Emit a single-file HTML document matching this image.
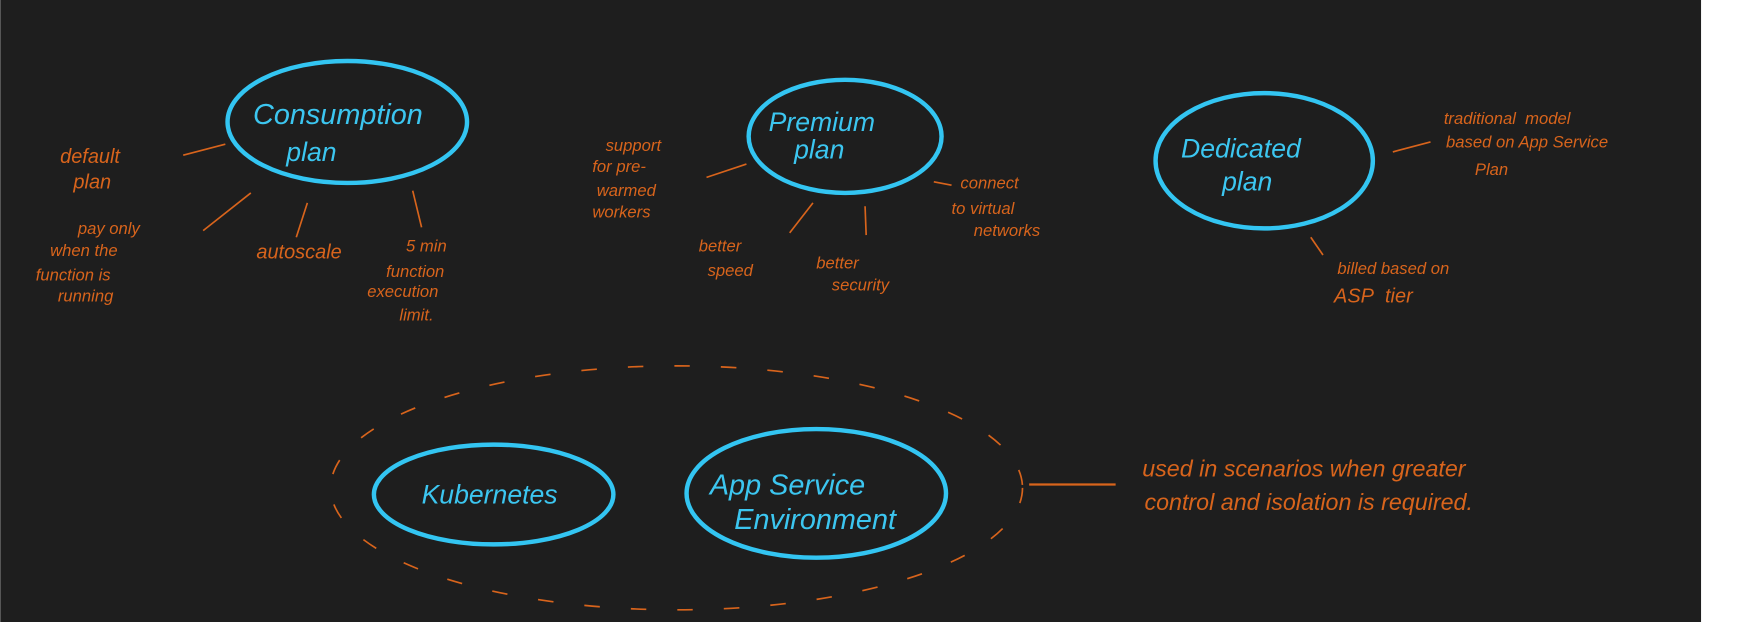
<!DOCTYPE html>
<html><head><meta charset="utf-8"><style>
html,body{margin:0;padding:0;background:#fff;}
svg{display:block}
text{font-family:"Liberation Sans",sans-serif;font-style:italic;}
.b{fill:#3cc6f0;font-size:22px;}
.o{fill:#d8641c;font-size:15px;}
</style></head><body>
<svg width="1739" height="622" viewBox="0 0 1568 561" xmlns="http://www.w3.org/2000/svg">
<rect x="0" y="0" width="1534" height="561" fill="#1e1e1e"/>
<g fill="none" stroke="#33c5f2" stroke-width="4">
<ellipse cx="313" cy="110" rx="108" ry="55"/>
<ellipse cx="762" cy="123" rx="87" ry="51"/>
<ellipse cx="1140" cy="145" rx="98" ry="61"/>
<ellipse cx="445" cy="446" rx="108" ry="45"/>
<ellipse cx="736" cy="445" rx="117" ry="58"/>
</g>
<ellipse cx="610" cy="440" rx="312" ry="110" fill="none" stroke="#d8641c" stroke-width="1.5" stroke-dasharray="14 28"/>
<g stroke="#d8641c" stroke-width="1.5" fill="none">
<line x1="165" y1="140" x2="203" y2="130"/>
<line x1="183" y1="208" x2="226" y2="174"/>
<line x1="277" y1="183" x2="267" y2="214"/>
<line x1="372" y1="172" x2="380" y2="205"/>
<line x1="637" y1="160" x2="673" y2="148"/>
<line x1="733" y1="183" x2="712" y2="210"/>
<line x1="780" y1="186" x2="781" y2="212"/>
<line x1="842" y1="164" x2="858" y2="167"/>
<line x1="1256" y1="137" x2="1290" y2="128"/>
<line x1="1182" y1="214" x2="1193" y2="230"/>
<line x1="928" y1="437" x2="1006" y2="437" stroke-width="2"/>
</g>
<g class="b">
<text x="228" y="112" font-size="26">Consumption</text>
<text x="258" y="145" font-size="24">plan</text>
<text x="693" y="118" font-size="24">Premium</text>
<text x="716" y="143" font-size="24">plan</text>
<text x="1065" y="142" font-size="24">Dedicated</text>
<text x="1102" y="172" font-size="24">plan</text>
<text x="380" y="454" font-size="24">Kubernetes</text>
<text x="640" y="446" font-size="26">App Service</text>
<text x="662" y="477" font-size="26">Environment</text>
</g>
<g class="o">
<text x="54" y="147" font-size="18">default</text>
<text x="66" y="170" font-size="18">plan</text>
<text x="70" y="211">pay only</text>
<text x="45" y="231">when the</text>
<text x="32" y="253">function is</text>
<text x="52" y="272">running</text>
<text x="231" y="233" font-size="18">autoscale</text>
<text x="366" y="227">5 min</text>
<text x="348" y="250">function</text>
<text x="331" y="268">execution</text>
<text x="360" y="289">limit.</text>
<text x="546" y="136">support</text>
<text x="534" y="155">for pre-</text>
<text x="538" y="177">warmed</text>
<text x="534" y="196">workers</text>
<text x="866" y="170">connect</text>
<text x="858" y="193">to virtual</text>
<text x="878" y="213">networks</text>
<text x="630" y="227">better</text>
<text x="638" y="249">speed</text>
<text x="736" y="242">better</text>
<text x="750" y="262">security</text>
<text x="1302" y="112">traditional&#160;&#160;model</text>
<text x="1304" y="133">based on App Service</text>
<text x="1330" y="158">Plan</text>
<text x="1206" y="247">billed based on</text>
<text x="1203" y="273" font-size="18">ASP&#160;&#160;tier</text>
<text x="1030" y="430" font-size="21">used in scenarios when greater</text>
<text x="1032" y="460" font-size="21">control and isolation is required.</text>
</g>
</svg>
</body></html>
